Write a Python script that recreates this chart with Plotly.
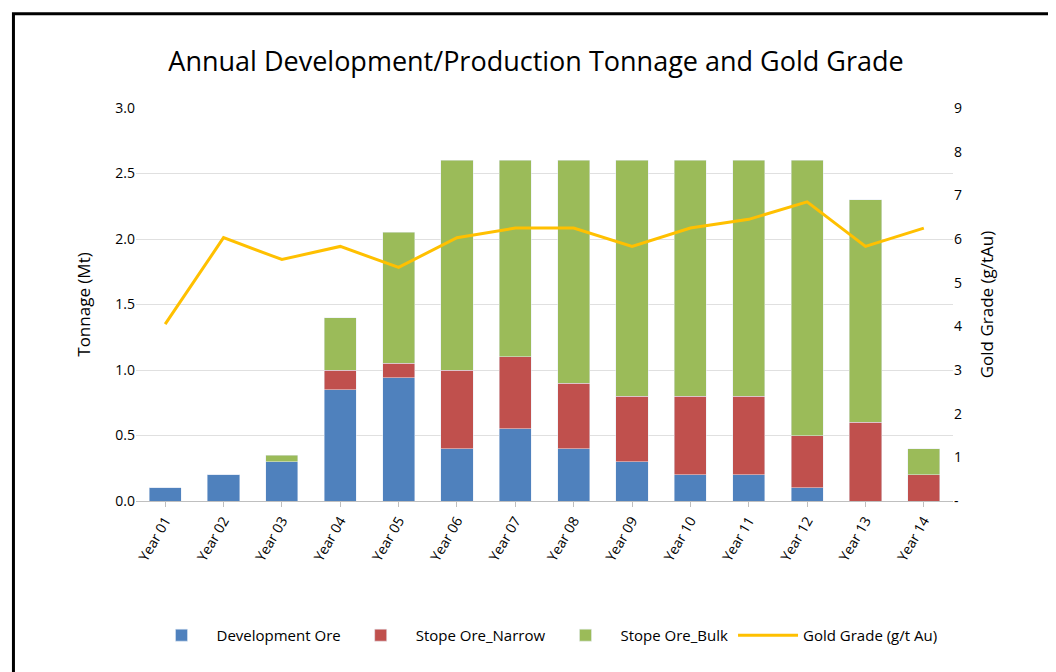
import plotly.graph_objects as go

years = [f"Year {i:02d}" for i in range(1, 15)]
dev = [0.1, 0.2, 0.3, 0.85, 0.94, 0.4, 0.55, 0.4, 0.3, 0.2, 0.2, 0.1, 0, 0]
narrow = [0, 0, 0, 0.15, 0.11, 0.6, 0.55, 0.5, 0.5, 0.6, 0.6, 0.4, 0.6, 0.2]
bulk = [0, 0, 0.05, 0.4, 1.0, 1.6, 1.5, 1.7, 1.8, 1.8, 1.8, 2.1, 1.7, 0.2]
grade = [4.05, 6.03, 5.53, 5.83, 5.35, 6.03, 6.25, 6.25, 5.83, 6.25, 6.45, 6.85, 5.83, 6.25]

fig = go.Figure()
fig.add_bar(x=years, y=dev, name="Development Ore", marker_color="#4F81BD")
fig.add_bar(x=years, y=narrow, name="Stope Ore_Narrow", marker_color="#C0504D")
fig.add_bar(x=years, y=bulk, name="Stope Ore_Bulk", marker_color="#9BBB59")
fig.add_scatter(x=years, y=grade, name="Gold Grade (g/t Au)", yaxis="y2", mode="lines",
                line=dict(color="#FFC000", width=3))

fig.update_layout(
    barmode="stack", bargap=0.45,
    width=1056, height=672,
    paper_bgcolor="white", plot_bgcolor="white",
    font=dict(family="Open Sans", size=14, color="black"),
    title=dict(text="Annual Development/Production Tonnage and Gold Grade", x=0.5, y=0.935,
               font=dict(size=27, family="Open Sans")),
    margin=dict(l=128, r=111, t=100, b=179, autoexpand=False),
    xaxis=dict(tickangle=-60, showline=True, linecolor="#bfbfbf", ticks="outside", tickcolor="#bfbfbf"),
    yaxis=dict(title=dict(text="Tonnage (Mt)", standoff=20), range=[0, 3], dtick=0.5, tickformat=".1f",
               gridcolor="#e0e0e0", zeroline=False),
    yaxis2=dict(title=dict(text="Gold Grade (g/tAu)", standoff=20), overlaying="y", side="right", range=[0, 9],
                tickvals=list(range(10)), ticktext=["-"] + [str(i) for i in range(1, 10)],
                showgrid=False, zeroline=False),
    legend=dict(orientation="h", x=0.5, xanchor="center", y=-0.3, yanchor="top",
                font=dict(size=15), itemwidth=60, traceorder="normal"),
    shapes=[dict(type="rect", xref="paper", yref="paper", x0=-0.15, x1=1.129, y0=-0.44, y1=1.24,
                 line=dict(color="black", width=3))],
)
fig.write_html("out.html")
